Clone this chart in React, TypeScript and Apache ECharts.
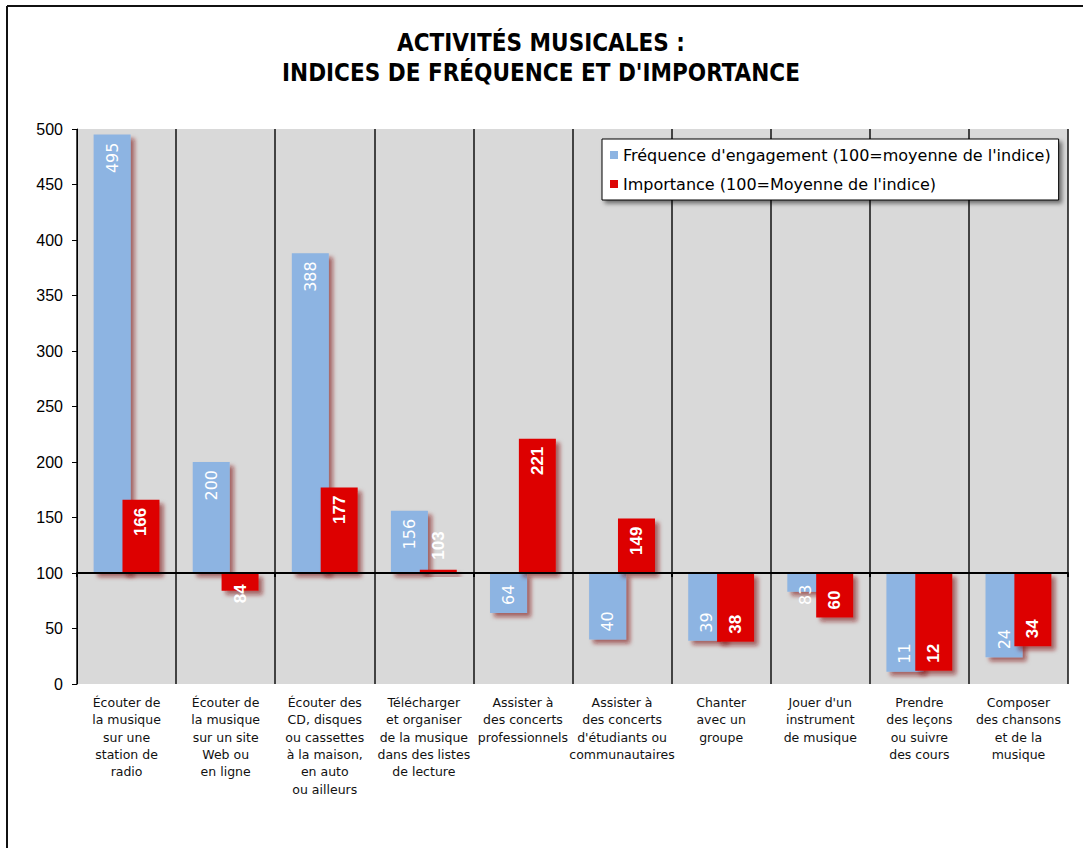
import React, { useEffect, useRef } from "react";
import * as echarts from "echarts";

const categories = [
  "Écouter de\nla musique\nsur une\nstation de\nradio",
  "Écouter de\nla musique\nsur un site\nWeb ou\nen ligne",
  "Écouter des\nCD, disques\nou cassettes\nà la maison,\nen auto\nou ailleurs",
  "Télécharger\net organiser\nde la musique\ndans des listes\nde lecture",
  "Assister à\ndes concerts\nprofessionnels",
  "Assister à\ndes concerts\nd'étudiants ou\ncommunautaires",
  "Chanter\navec un\ngroupe",
  "Jouer d'un\ninstrument\nde musique",
  "Prendre\ndes leçons\nou suivre\ndes cours",
  "Composer\ndes chansons\net de la\nmusique",
];

const frequence = [495, 200, 388, 156, 64, 40, 39, 83, 11, 24];
const importance = [166, 84, 177, 103, 221, 149, 38, 60, 12, 34];

const seriesNames = [
  "Fréquence d'engagement (100=moyenne de l'indice)",
  "Importance (100=Moyenne de l'indice)",
];

const BASELINE = 100;
const Y_MIN = 0;
const Y_MAX = 500;
const Y_STEP = 50;

const titleLines = ["ACTIVITÉS MUSICALES :", "INDICES DE FRÉQUENCE ET D'IMPORTANCE"];

function labelFor(v: number) {
  const d = v - BASELINE;
  if (d >= 0 && d < 20) {
    return { position: "top", align: "left", verticalAlign: "middle", distance: 10 };
  }
  if (d < 0 && d > -20) {
    return { position: "insideBottom", align: "center", verticalAlign: "middle", distance: -3 };
  }
  if (d >= 0) {
    return { position: "insideTop", align: "right", verticalAlign: "middle", distance: 8 };
  }
  return { position: "insideBottom", align: "left", verticalAlign: "middle", distance: 8 };
}

export default function App() {
  const ref = useRef<HTMLDivElement>(null);
  useEffect(() => {
    if (!ref.current) return;
    const chart = echarts.init(ref.current, null, { renderer: "svg" });
    const shadow = {
      shadowColor: "rgba(130,20,20,0.6)",
      shadowBlur: 4,
      shadowOffsetX: 4,
      shadowOffsetY: 4,
    };
    const makeSeries = (name: string, values: number[], color: string, bold: boolean) => ({
      name,
      type: "bar",
      xAxisIndex: 0,
      yAxisIndex: 0,
      barWidth: 37,
      barGap: "-22%",
      itemStyle: { color, ...shadow },
      label: {
        show: true,
        rotate: 90,
        color: "#fff",
        fontSize: bold ? 17 : 16,
        fontWeight: bold ? "bold" : "normal",
        fontFamily: bold ? "Liberation Sans" : "DejaVu Sans",
        formatter: (p: any) => String(p.value + BASELINE),
      },
      emphasis: { disabled: true },
      data: values.map((v) => ({ value: v - BASELINE, label: labelFor(v) })),
    });

    chart.setOption({
      animation: false,
      backgroundColor: "#fff",
      graphic: [
        {
          type: "line",
          shape: { x1: 7, y1: 6, x2: 1083, y2: 6 },
          style: { stroke: "#111", lineWidth: 2 },
        },
        {
          type: "line",
          shape: { x1: 7, y1: 6, x2: 7, y2: 848 },
          style: { stroke: "#111", lineWidth: 2 },
        },
        ...titleLines.map((t, i) => ({
          type: "text",
          x: 541,
          y: 43 + i * 30,
          style: {
            text: t,
            fill: "#000",
            fontSize: 24,
            fontWeight: "bold",
            fontFamily: "'Liberation Sans Narrow', 'DejaVu Sans Condensed', sans-serif",
            align: "center",
            verticalAlign: "middle",
            textAlign: "center",
            textVerticalAlign: "middle",
          },
        })),
      ],
      legend: {
        orient: "vertical",
        left: 602,
        top: 139,
        padding: [8, 8, 8, 8],
        itemGap: 13,
        itemWidth: 8,
        itemHeight: 8,
        icon: "rect",
        backgroundColor: "#fff",
        borderColor: "#000",
        borderWidth: 1,
        shadowColor: "rgba(0,0,0,0.5)",
        shadowBlur: 4,
        shadowOffsetX: 3,
        shadowOffsetY: 3,
        itemStyle: { shadowBlur: 0, shadowOffsetX: 0, shadowOffsetY: 0, shadowColor: "transparent" },
        textStyle: { fontSize: 16, color: "#000", fontFamily: "DejaVu Sans" },
        data: seriesNames,
      },
      grid: {
        left: 77,
        right: 15,
        top: 129,
        bottom: 164,
        show: true,
        backgroundColor: "#D9D9D9",
        borderWidth: 0,
      },
      xAxis: [
        {
          type: "category",
          data: categories,
          position: "bottom",
          z: 5,
          axisLine: { show: true, onZero: true, lineStyle: { color: "#000", width: 2 } },
          axisTick: { show: true, length: 4, lineStyle: { color: "#000", width: 2 } },
          axisLabel: { show: false },
          splitLine: { show: false },
        },
        {
          type: "category",
          data: categories,
          position: "bottom",
          axisLine: { show: false, onZero: false },
          axisTick: { show: false },
          splitLine: { show: true, interval: 0, lineStyle: { color: "#111", width: 1.5 } },
          axisLabel: {
            show: true,
            interval: 0,
            margin: 10,
            fontSize: 12.5,
            lineHeight: 17.3,
            color: "#111",
            fontFamily: "DejaVu Sans",
            align: "center",
            verticalAlign: "top",
          },
        },
      ],
      yAxis: {
        type: "value",
        min: Y_MIN - BASELINE,
        max: Y_MAX - BASELINE,
        interval: Y_STEP,
        axisLine: { show: true, lineStyle: { color: "#000", width: 1 } },
        axisTick: { show: true, length: 5, lineStyle: { color: "#000" } },
        splitLine: { show: false },
        axisLabel: {
          margin: 14,
          fontSize: 16,
          color: "#000",
          fontFamily: "Liberation Sans",
          formatter: (v: number) => String(v + BASELINE),
        },
      },
      series: [
        makeSeries(seriesNames[0], frequence, "#8DB4E2", false),
        makeSeries(seriesNames[1], importance, "#DD0606", true),
      ],
    });
    return () => chart.dispose();
  }, []);
  return (
    <div
      ref={ref}
      style={{ position: "fixed", left: 0, top: 0, width: 1083, height: 848 }}
    />
  );
}
